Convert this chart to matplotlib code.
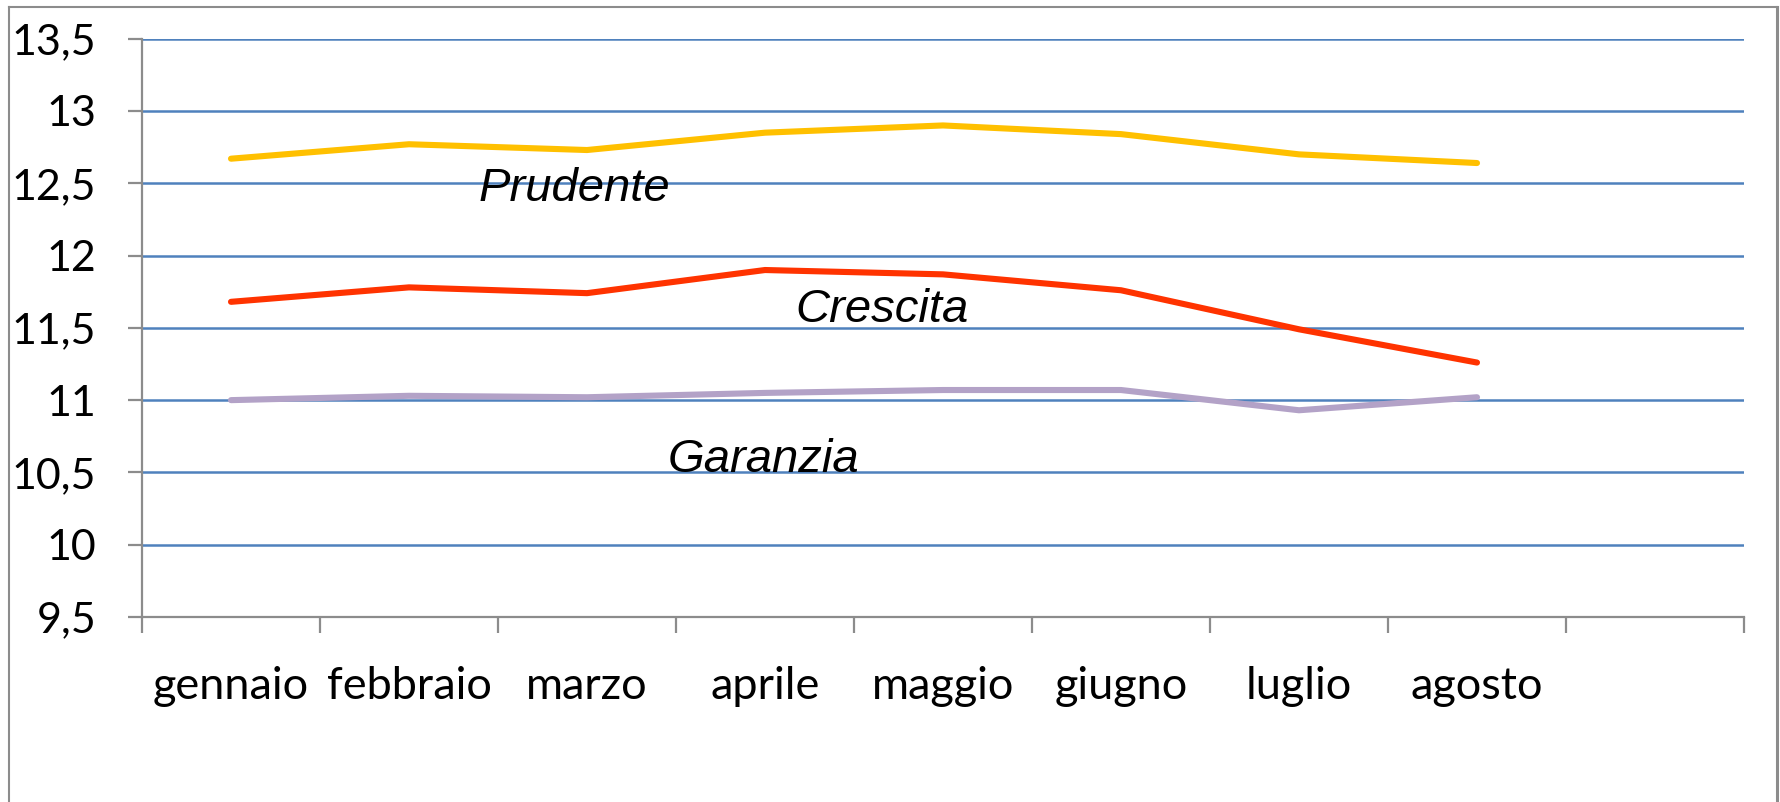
import numpy as np
import matplotlib
matplotlib.use("Agg")
import matplotlib.pyplot as plt
from matplotlib.lines import Line2D

# ---- data ----
categories = ["gennaio", "febbraio", "marzo", "aprile", "maggio", "giugno", "luglio", "agosto", ""]
prudente = [12.67, 12.77, 12.73, 12.85, 12.90, 12.84, 12.70, 12.64]
crescita = [11.68, 11.78, 11.74, 11.90, 11.87, 11.76, 11.49, 11.26]
garanzia = [11.00, 11.03, 11.02, 11.05, 11.07, 11.07, 10.93, 11.02]
y_ticks = [9.5, 10, 10.5, 11, 11.5, 12, 12.5, 13, 13.5]
y_tick_labels = ["9,5", "10", "10,5", "11", "11,5", "12", "12,5", "13", "13,5"]
series_names = ["Prudente", "Crescita", "Garanzia"]

W, H = 1781, 802
fig = plt.figure(figsize=(W / 100, H / 100), dpi=100)
fig.patch.set_facecolor("white")

left, right, top, bottom = 142, 1744, 38.7, 617
ax = fig.add_axes([left / W, 1 - bottom / H, (right - left) / W, (bottom - top) / H])

x = np.arange(len(prudente))
line_kw = dict(lw=4.4, solid_capstyle="round", solid_joinstyle="round", zorder=3)
ax.plot(x, prudente, color="#FFC000", **line_kw)
ax.plot(x, crescita, color="#FF3300", **line_kw)
ax.plot(x, garanzia, color="#B3A2C7", **line_kw)

ax.set_xlim(-0.5, len(categories) - 0.5)
ax.set_ylim(y_ticks[0], y_ticks[-1])

ax.set_yticks(y_ticks)
ax.set_yticklabels(y_tick_labels)
ax.yaxis.grid(True, color="#4F81BD", lw=1.8)
ax.set_axisbelow(True)

ax.set_xticks(np.arange(-0.5, len(categories), 1.0))
ax.set_xticklabels([])
ax.set_xticks(np.arange(len(categories)), minor=True)
ax.set_xticklabels(categories, minor=True)

for s in ["top", "right"]:
    ax.spines[s].set_visible(False)
for s in ["left", "bottom"]:
    ax.spines[s].set_color("#8C8C8C")
    ax.spines[s].set_linewidth(1.6)

fam = ["Lato", "DejaVu Sans"]
ax.tick_params(axis="y", direction="out", length=10, width=1.6, color="#8C8C8C", pad=23)
ax.tick_params(axis="x", which="major", direction="out", length=11.5, width=1.6, color="#8C8C8C")
ax.tick_params(axis="x", which="minor", length=0, pad=35)
for t in ax.get_yticklabels():
    t.set_fontfamily(fam)
    t.set_fontsize(31)
    t.set_color("black")
for t in ax.get_xticklabels(minor=True):
    t.set_fontfamily(fam)
    t.set_fontsize(32.5)
    t.set_color("black")

# series labels
txt_font = dict(family=["Liberation Sans", "DejaVu Sans"], style="italic", size=34, color="black")
ax.text(1.93, 12.38, series_names[0], ha="center", va="baseline", **txt_font)
ax.text(3.66, 11.54, series_names[1], ha="center", va="baseline", **txt_font)
ax.text(2.99, 10.50, series_names[2], ha="center", va="baseline", **txt_font)

# outer chart border
bc = "#8C8C8C"
fig.add_artist(Line2D([9 / W, 9 / W], [0, 1 - 7 / H], transform=fig.transFigure, color=bc, lw=1.5))
fig.add_artist(Line2D([9 / W, 1777 / W], [1 - 7 / H, 1 - 7 / H], transform=fig.transFigure, color=bc, lw=1.5))
fig.add_artist(Line2D([1777 / W, 1777 / W], [0, 1 - 7 / H], transform=fig.transFigure, color=bc, lw=2.2))

fig.savefig("out.png", dpi=100)
